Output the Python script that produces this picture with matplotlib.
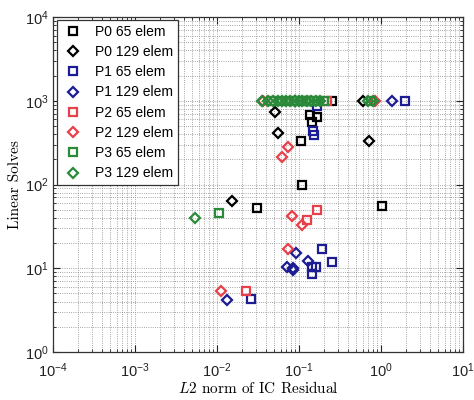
import matplotlib
matplotlib.use("Agg")
import matplotlib.pyplot as plt
from matplotlib.ticker import LogLocator, NullFormatter

plt.rcParams['font.family'] = ['Liberation Sans', 'DejaVu Sans']
plt.rcParams['mathtext.fontset'] = 'custom'
plt.rcParams['mathtext.rm'] = 'Liberation Sans'
plt.rcParams['mathtext.it'] = 'cmmi10'
plt.rcParams['mathtext.bf'] = 'Liberation Sans:bold'

# ---- data ----
labels = ["P0 65 elem", "P0 129 elem", "P1 65 elem", "P1 129 elem",
          "P2 65 elem", "P2 129 elem", "P3 65 elem", "P3 129 elem"]

p0_65_x = [0.25, 0.12, 0.136, 0.164, 0.143, 0.106, 0.109, 0.031, 1.02]
p0_65_y = [1000, 1000, 676, 646, 562, 330, 100, 52, 56]

p0_129_x = [0.051, 0.055, 0.71, 0.0152, 0.09, 0.6]
p0_129_y = [740, 415, 330, 63, 1000, 1000]

p1_65_x = [1.96, 0.166, 0.149, 0.151, 0.189, 0.25, 0.161, 0.143, 0.145, 0.0258]
p1_65_y = [1000, 865, 430, 395, 17.0, 11.8, 10.4, 10.3, 8.5, 4.26]

p1_129_x = [1.35, 0.0918, 0.0708, 0.0838, 0.085, 0.130, 0.0131]
p1_129_y = [1000, 15.1, 10.4, 10.2, 9.5, 12.2, 4.18]

p2_65_x = [0.219, 0.045, 0.164, 0.124, 0.0224]
p2_65_y = [1000, 1000, 49.7, 37.7, 5.4]

p2_129_x = [0.036, 0.845, 0.0615, 0.074, 0.0828, 0.108, 0.074, 0.0111]
p2_129_y = [1000, 1000, 215, 283, 42.4, 32.8, 17.1, 5.35]

p3_65_x = [0.0106, 0.045, 0.06, 0.075, 0.09, 0.105, 0.12, 0.135, 0.15, 0.17, 0.2, 0.75]
p3_65_y = [45.3, 1000, 1000, 1000, 1000, 1000, 1000, 1000, 1000, 1000, 1000, 1000]

p3_129_x = [0.0054, 0.0355, 0.042, 0.048, 0.055, 0.062, 0.07, 0.078, 0.088,
            0.1, 0.11, 0.125, 0.14, 0.16, 0.18, 0.7, 0.8]
p3_129_y = [40.2, 1000, 1000, 1000, 1000, 1000, 1000, 1000, 1000,
            1000, 1000, 1000, 1000, 1000, 1000, 1000, 1000]

series_x = [p0_65_x, p0_129_x, p1_65_x, p1_129_x, p2_65_x, p2_129_x, p3_65_x, p3_129_x]
series_y = [p0_65_y, p0_129_y, p1_65_y, p1_129_y, p2_65_y, p2_129_y, p3_65_y, p3_129_y]

colors = ['#000000', '#000000', '#1c1c94', '#1c1c94',
          '#e8404a', '#e8404a', '#2a8a3a', '#2a8a3a']
markers = ['s', 'D', 's', 'D', 's', 'D', 's', 'D']

fig = plt.figure(figsize=(4.74, 4.0), dpi=100)
ax = fig.add_axes([0.112, 0.12, 0.865, 0.8375])

for xs, ys, c, m, lab in zip(series_x, series_y, colors, markers, labels):
    ax.plot(xs, ys, linestyle='none', marker=m, markersize=5.5 if m == 's' else 5.3,
            markerfacecolor='none', markeredgecolor=c, markeredgewidth=1.6, label=lab)

ax.set_xscale('log')
ax.set_yscale('log')
ax.set_xlim(1e-4, 10)
ax.set_ylim(1, 1e4)

ax.xaxis.set_major_locator(LogLocator(base=10, numticks=10))
ax.yaxis.set_major_locator(LogLocator(base=10, numticks=10))
ax.xaxis.set_minor_locator(LogLocator(base=10, subs=range(2, 10), numticks=20))
ax.yaxis.set_minor_locator(LogLocator(base=10, subs=range(2, 10), numticks=20))
ax.xaxis.set_minor_formatter(NullFormatter())
ax.yaxis.set_minor_formatter(NullFormatter())

ax.grid(True, which='both', linestyle=':', color='#888888', linewidth=0.6)
ax.set_axisbelow(True)
ax.tick_params(which='both', direction='in', top=True, right=True, labelsize=10.5, colors='#222222')
ax.tick_params(which='major', length=5)
ax.tick_params(which='minor', length=2.5)
ax.tick_params(axis='x', which='major', pad=7)
ax.tick_params(axis='y', which='major', pad=3)
for s in ax.spines.values():
    s.set_color('#333333')
    s.set_linewidth(0.9)

ax.set_xlabel(r"$L$2 norm of IC Residual", fontfamily='cmr10', fontsize=11, labelpad=0)
ax.set_ylabel("Linear Solves", fontfamily='cmr10', fontsize=11, labelpad=2)

leg = ax.legend(loc='upper left', fontsize=10, frameon=True, fancybox=False,
                edgecolor='#333333', framealpha=1.0, borderaxespad=0.25,
                labelspacing=0.45, handletextpad=0.7, borderpad=0.3, handlelength=1.8)
leg.get_frame().set_linewidth(0.9)

fig.savefig("out.png", dpi=100)
